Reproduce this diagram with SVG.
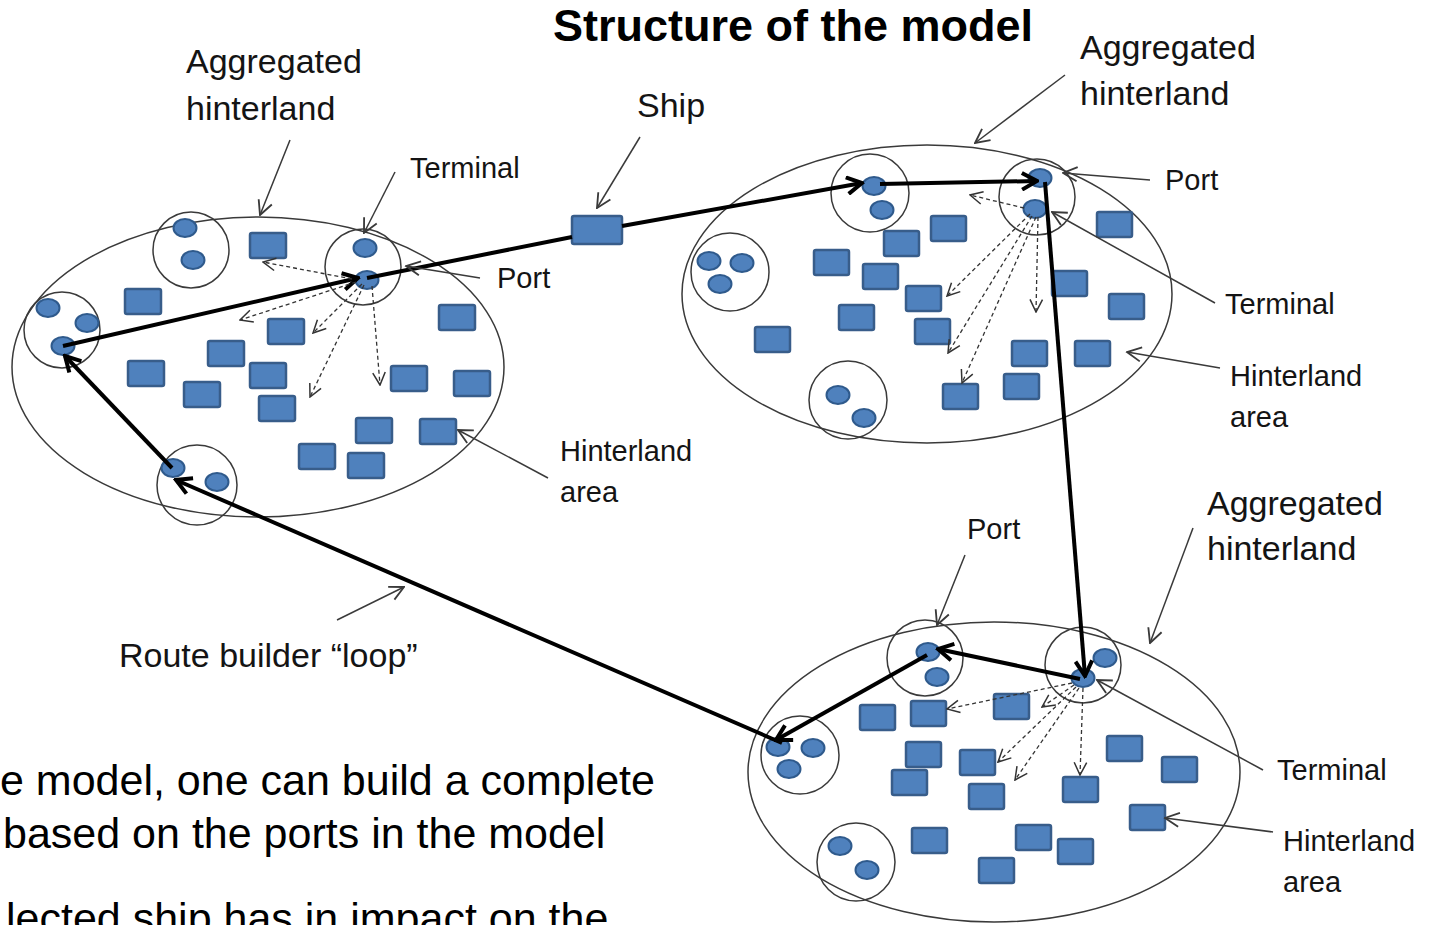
<svg xmlns="http://www.w3.org/2000/svg" width="1430" height="925" viewBox="0 0 1430 925">
<defs>
<style>
.t{font-family:"Liberation Sans",Arial,sans-serif;fill:#141414}
.big{font-size:34px}
.sm{font-size:29px}
.body{font-size:43px;fill:#000}
.title{font-size:45px;font-weight:bold;fill:#000}
.area{fill:none;stroke:#3a3a3a;stroke-width:1.5}
.cl{fill:none;stroke:#3a3a3a;stroke-width:1.5}
.dot{fill:#4F81BD;stroke:#2F5A8C;stroke-width:2}
.h{fill:#4F81BD;stroke:#385D8A;stroke-width:2.5}
.route{fill:none;stroke:#000;stroke-width:4;marker-end:url(#aT)}
.seg{fill:none;stroke:#000;stroke-width:4}
.dash{fill:none;stroke:#333;stroke-width:1.3;stroke-dasharray:4 3;marker-end:url(#aD)}
.ann{fill:none;stroke:#3a3a3a;stroke-width:1.5;marker-end:url(#aA)}
</style>
<marker id="aT" viewBox="0 0 12 12" refX="10.5" refY="6" markerWidth="20" markerHeight="20" markerUnits="userSpaceOnUse" orient="auto"><path d="M1.5,1 L10.5,6 L1.5,11" fill="none" stroke="#000" stroke-width="2.4"/></marker>
<marker id="aD" viewBox="0 0 12 12" refX="11" refY="6" markerWidth="15" markerHeight="15" markerUnits="userSpaceOnUse" orient="auto"><path d="M1,1 L11,6 L1,11" fill="none" stroke="#333" stroke-width="1.2"/></marker>
<marker id="aA" viewBox="0 0 12 12" refX="11" refY="6" markerWidth="17" markerHeight="17" markerUnits="userSpaceOnUse" orient="auto"><path d="M1,1 L11,6 L1,11" fill="none" stroke="#3a3a3a" stroke-width="1.3"/></marker>
</defs>
<rect width="1430" height="925" fill="#fff"/>

<g id="hinterland-left">
<ellipse class="area" cx="258" cy="367" rx="246" ry="150"/>
<g id="left-cluster-top"><circle class="cl" cx="191" cy="250" r="38"/><ellipse class="dot" cx="185" cy="228" rx="11.5" ry="9"/><ellipse class="dot" cx="193" cy="260" rx="11.5" ry="9"/></g>
<g id="left-port"><circle class="cl" cx="363" cy="267" r="38"/><ellipse class="dot" cx="365" cy="248" rx="11.5" ry="9"/><ellipse class="dot" cx="367" cy="280" rx="11.5" ry="9"/></g>
<g id="left-cluster-west"><circle class="cl" cx="62" cy="330" r="38"/><ellipse class="dot" cx="48" cy="308" rx="11.5" ry="9"/><ellipse class="dot" cx="87" cy="323" rx="11.5" ry="9"/><ellipse class="dot" cx="63" cy="346" rx="11.5" ry="9"/></g>
<g id="left-cluster-south"><circle class="cl" cx="197" cy="485" r="40"/><ellipse class="dot" cx="173" cy="468" rx="11.5" ry="9"/><ellipse class="dot" cx="217" cy="482" rx="11.5" ry="9"/></g>
<g id="left-areas">
<rect class="h" x="250" y="233" width="36" height="25" rx="2"/>
<rect class="h" x="125" y="289" width="36" height="25" rx="2"/>
<rect class="h" x="268" y="319" width="36" height="25" rx="2"/>
<rect class="h" x="439" y="305" width="36" height="25" rx="2"/>
<rect class="h" x="208" y="341" width="36" height="25" rx="2"/>
<rect class="h" x="128" y="361" width="36" height="25" rx="2"/>
<rect class="h" x="250" y="363" width="36" height="25" rx="2"/>
<rect class="h" x="184" y="382" width="36" height="25" rx="2"/>
<rect class="h" x="259" y="396" width="36" height="25" rx="2"/>
<rect class="h" x="391" y="366" width="36" height="25" rx="2"/>
<rect class="h" x="454" y="371" width="36" height="25" rx="2"/>
<rect class="h" x="356" y="418" width="36" height="25" rx="2"/>
<rect class="h" x="420" y="419" width="36" height="25" rx="2"/>
<rect class="h" x="299" y="444" width="36" height="25" rx="2"/>
<rect class="h" x="348" y="453" width="36" height="25" rx="2"/>
</g>
</g>

<g id="hinterland-topright">
<ellipse class="area" cx="927" cy="294" rx="245" ry="149"/>
<g id="tr-port"><circle class="cl" cx="1037" cy="197" r="38"/><ellipse class="dot" cx="1040" cy="178" rx="11.5" ry="9"/><ellipse class="dot" cx="1035" cy="209" rx="11.5" ry="9"/></g>
<g id="tr-cluster-top"><circle class="cl" cx="870" cy="193" r="39"/><ellipse class="dot" cx="874" cy="186" rx="11.5" ry="9"/><ellipse class="dot" cx="882" cy="210" rx="11.5" ry="9"/></g>
<g id="tr-cluster-west"><circle class="cl" cx="730" cy="272" r="39"/><ellipse class="dot" cx="709" cy="261" rx="11.5" ry="9"/><ellipse class="dot" cx="742" cy="263" rx="11.5" ry="9"/><ellipse class="dot" cx="720" cy="284" rx="11.5" ry="9"/></g>
<g id="tr-cluster-south"><circle class="cl" cx="848" cy="400" r="39"/><ellipse class="dot" cx="838" cy="395" rx="11.5" ry="9"/><ellipse class="dot" cx="864" cy="418" rx="11.5" ry="9"/></g>
<g id="tr-areas">
<rect class="h" x="931" y="216" width="35" height="25" rx="2"/>
<rect class="h" x="884" y="231" width="35" height="25" rx="2"/>
<rect class="h" x="1097" y="212" width="35" height="25" rx="2"/>
<rect class="h" x="814" y="250" width="35" height="25" rx="2"/>
<rect class="h" x="863" y="264" width="35" height="25" rx="2"/>
<rect class="h" x="1052" y="271" width="35" height="25" rx="2"/>
<rect class="h" x="906" y="286" width="35" height="25" rx="2"/>
<rect class="h" x="1109" y="294" width="35" height="25" rx="2"/>
<rect class="h" x="839" y="305" width="35" height="25" rx="2"/>
<rect class="h" x="755" y="327" width="35" height="25" rx="2"/>
<rect class="h" x="915" y="319" width="35" height="25" rx="2"/>
<rect class="h" x="1012" y="341" width="35" height="25" rx="2"/>
<rect class="h" x="1075" y="341" width="35" height="25" rx="2"/>
<rect class="h" x="1004" y="374" width="35" height="25" rx="2"/>
<rect class="h" x="943" y="384" width="35" height="25" rx="2"/>
</g>
</g>

<g id="hinterland-bottom">
<ellipse class="area" cx="994" cy="772" rx="246" ry="150"/>
<g id="b-cluster-top"><circle class="cl" cx="925" cy="658" r="38"/><ellipse class="dot" cx="928" cy="652" rx="11.5" ry="9"/><ellipse class="dot" cx="937" cy="677" rx="11.5" ry="9"/></g>
<g id="b-port"><circle class="cl" cx="1083" cy="665" r="38"/><ellipse class="dot" cx="1105" cy="658" rx="11.5" ry="9"/><ellipse class="dot" cx="1083" cy="678" rx="11.5" ry="9"/></g>
<g id="b-cluster-west"><circle class="cl" cx="800" cy="755" r="39"/><ellipse class="dot" cx="778" cy="747" rx="11.5" ry="9"/><ellipse class="dot" cx="813" cy="748" rx="11.5" ry="9"/><ellipse class="dot" cx="789" cy="769" rx="11.5" ry="9"/></g>
<g id="b-cluster-south"><circle class="cl" cx="856" cy="862" r="39"/><ellipse class="dot" cx="840" cy="846" rx="11.5" ry="9"/><ellipse class="dot" cx="867" cy="870" rx="11.5" ry="9"/></g>
<g id="b-areas">
<rect class="h" x="860" y="705" width="35" height="25" rx="2"/>
<rect class="h" x="911" y="701" width="35" height="25" rx="2"/>
<rect class="h" x="994" y="694" width="35" height="25" rx="2"/>
<rect class="h" x="906" y="742" width="35" height="25" rx="2"/>
<rect class="h" x="892" y="770" width="35" height="25" rx="2"/>
<rect class="h" x="960" y="750" width="35" height="25" rx="2"/>
<rect class="h" x="969" y="784" width="35" height="25" rx="2"/>
<rect class="h" x="1063" y="777" width="35" height="25" rx="2"/>
<rect class="h" x="1107" y="736" width="35" height="25" rx="2"/>
<rect class="h" x="1162" y="757" width="35" height="25" rx="2"/>
<rect class="h" x="1130" y="805" width="35" height="25" rx="2"/>
<rect class="h" x="912" y="828" width="35" height="25" rx="2"/>
<rect class="h" x="1016" y="825" width="35" height="25" rx="2"/>
<rect class="h" x="1058" y="839" width="35" height="25" rx="2"/>
<rect class="h" x="979" y="858" width="35" height="25" rx="2"/>
</g>
</g>

<g id="ship"><rect class="h" x="572" y="216" width="50" height="28" rx="2"/></g>

<g id="connectors">
<g id="route">
<path class="route" d="M63,346 L358,278"/>
<path class="seg" d="M367,278 L572,237"/>
<path class="route" d="M622,226 L862,183"/>
<path class="route" d="M880,184 L1037,181"/>
<path class="route" d="M1045,182 L1085,676"/>
<path class="route" d="M1080,679 L938,649"/>
<path class="route" d="M927,655 L776,740"/>
<path class="route" d="M782,743 L176,480"/>
<path class="route" d="M172,468 L65,356"/>
</g>
<g id="flows">
<path class="dash" d="M352,279 L263,262"/>
<path class="dash" d="M356,282 L240,320"/>
<path class="dash" d="M362,284 L313,333"/>
<path class="dash" d="M364,285 L310,397"/>
<path class="dash" d="M372,286 L380,385"/>
<path class="dash" d="M1024,208 L970,195"/>
<path class="dash" d="M1030,214 L947,296"/>
<path class="dash" d="M1032,216 L948,353"/>
<path class="dash" d="M1036,217 L962,383"/>
<path class="dash" d="M1038,217 L1036,312"/>
<path class="dash" d="M1072,683 L947,709"/>
<path class="dash" d="M1074,685 L1042,707"/>
<path class="dash" d="M1076,687 L998,762"/>
<path class="dash" d="M1079,688 L1015,780"/>
<path class="dash" d="M1083,688 L1080,775"/>
</g>
<g id="callouts">
<path class="ann" d="M290,140 L260,215"/>
<path class="ann" d="M395,172 L364,233"/>
<path class="ann" d="M480,278 L406,266"/>
<path class="ann" d="M640,137 L597,208"/>
<path class="ann" d="M548,478 L458,430"/>
<path class="ann" d="M337,620 L404,587"/>
<path class="ann" d="M1065,75 L975,143"/>
<path class="ann" d="M1150,180 L1063,173"/>
<path class="ann" d="M1215,303 L1052,212"/>
<path class="ann" d="M1220,368 L1127,352"/>
<path class="ann" d="M965,555 L937,625"/>
<path class="ann" d="M1193,528 L1150,643"/>
<path class="ann" d="M1263,770 L1097,680"/>
<path class="ann" d="M1273,832 L1165,818"/>
</g>
</g>

<g id="labels">
<text class="t title" x="553" y="41">Structure of the model</text>
<text class="t big" x="186" y="73">Aggregated</text>
<text class="t big" x="186" y="120">hinterland</text>
<text class="t sm" x="410" y="178">Terminal</text>
<text class="t sm" x="497" y="288">Port</text>
<text class="t big" x="637" y="117">Ship</text>
<text class="t big" x="1080" y="59">Aggregated</text>
<text class="t big" x="1080" y="105">hinterland</text>
<text class="t sm" x="1165" y="190">Port</text>
<text class="t sm" x="1225" y="314">Terminal</text>
<text class="t sm" x="1230" y="386">Hinterland</text>
<text class="t sm" x="1230" y="427">area</text>
<text class="t sm" x="560" y="461">Hinterland</text>
<text class="t sm" x="560" y="502">area</text>
<text class="t big" x="119" y="667">Route builder “loop”</text>
<text class="t sm" x="967" y="539">Port</text>
<text class="t big" x="1207" y="515">Aggregated</text>
<text class="t big" x="1207" y="560">hinterland</text>
<text class="t sm" x="1277" y="780">Terminal</text>
<text class="t sm" x="1283" y="851">Hinterland</text>
<text class="t sm" x="1283" y="892">area</text>
<text class="t body" x="0" y="795">e model, one can build a complete</text>
<text class="t body" x="3" y="848">based on the ports in the model</text>
<text class="t body" x="6" y="933">lected ship has in impact on the</text>
</g>
</svg>
